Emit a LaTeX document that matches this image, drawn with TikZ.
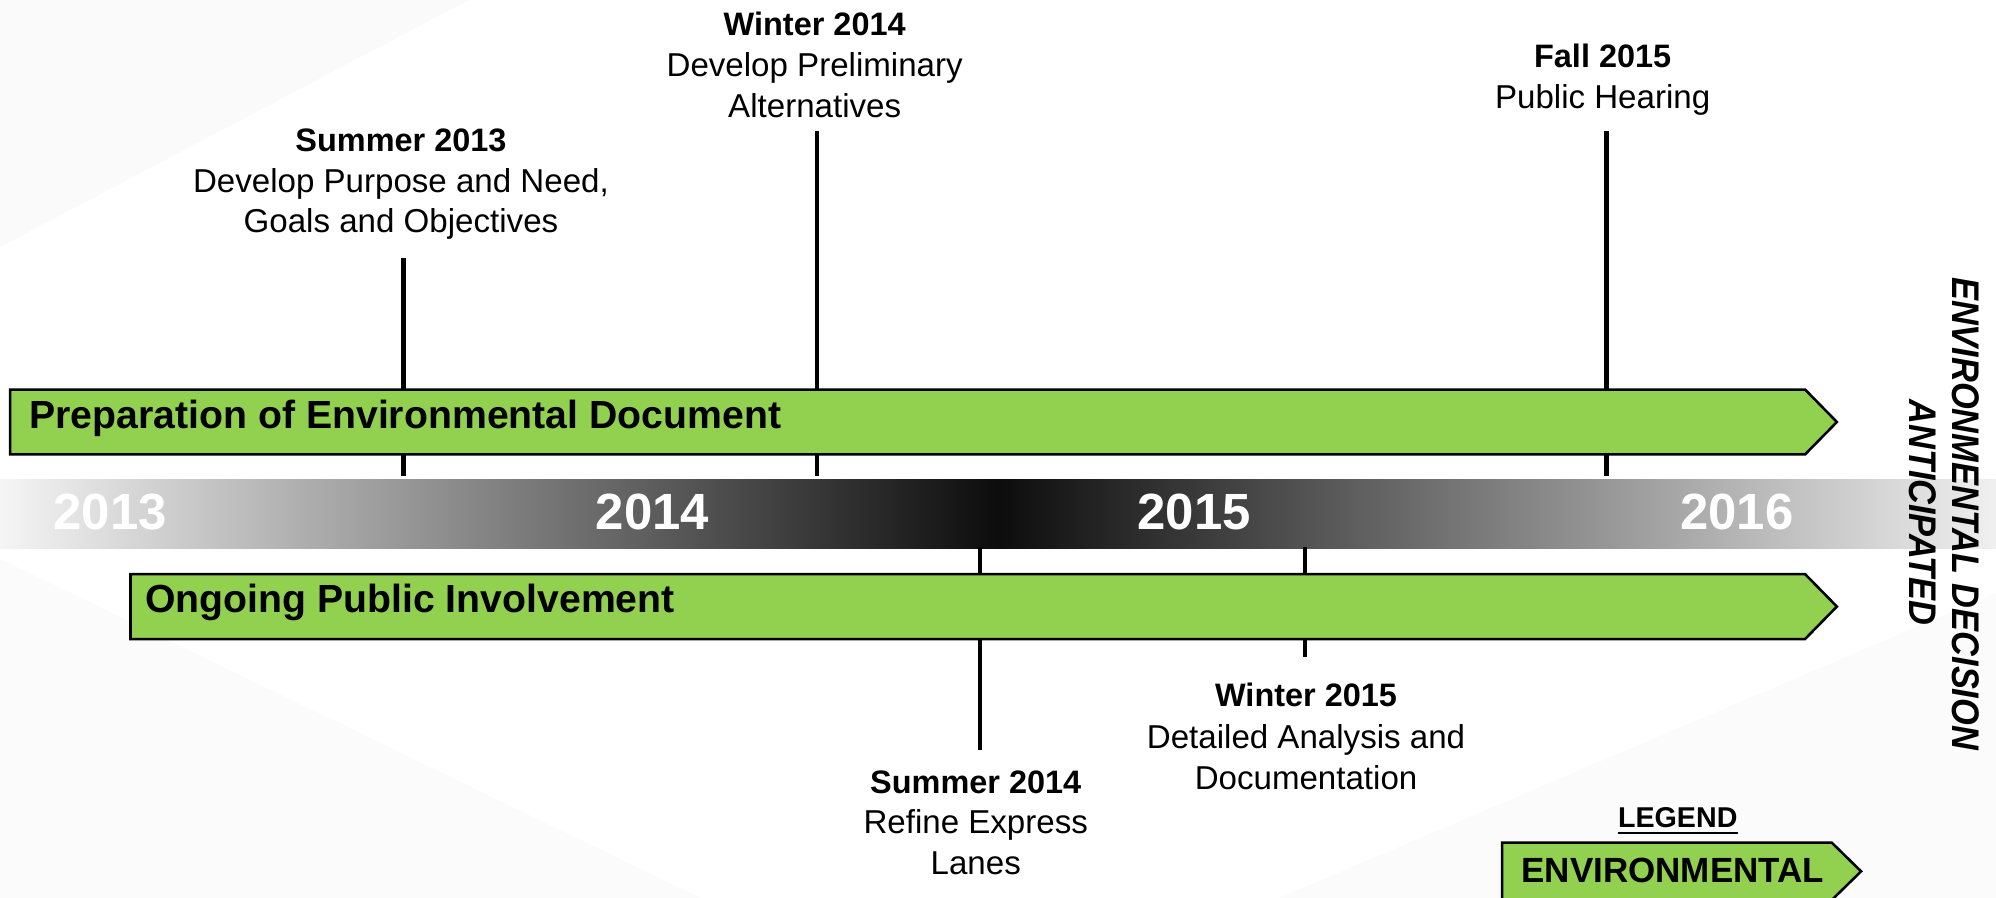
\documentclass[tikz,border=0pt]{standalone}
\usepackage{fontspec}
\setmainfont{Liberation Sans}
\definecolor{barg}{HTML}{92D050}
\begin{document}
\begin{tikzpicture}[x=1pt,y=-1pt,
  bar/.style={fill=barg, draw=black, line width=2pt, line join=miter},
  tick/.style={line width=3.5pt},
  hd/.style={font=\fontsize{25.5}{30}\selectfont\bfseries, inner sep=0pt, anchor=base},
  ds/.style={font=\fontsize{26}{30}\selectfont, inner sep=0pt, anchor=base},
  yr/.style={font=\fontsize{40}{48}\selectfont\bfseries, text=white, inner sep=0pt, anchor=base},
  bartxt/.style={font=\fontsize{30.8}{36}\selectfont\bfseries, inner sep=0pt, anchor=base west},
  rot/.style={font=\fontsize{27}{34}\selectfont\bfseries\itshape, inner sep=0pt, rotate=-90},
]
\useasboundingbox (0,0) rectangle (1568,705.4);
% background
\fill[white] (0,0) rectangle (1568,705.4);
\fill[black!2] (0,0) -- (368,0) -- (0,194) -- cycle;
\fill[black!1.5] (0,439) -- (550,705.4) -- (0,705.4) -- cycle;
\fill[black!1.5] (1005,705.4) -- (1568,466) -- (1568,705.4) -- cycle;
% time band
\shade[left color=black!4, right color=black!6, middle color=black!95] (0,376.3) rectangle (1568,430.7);
% ticks
\coordinate (t1a) at (317,203);   \coordinate (t1b) at (317,374);
\coordinate (t2a) at (642,103);   \coordinate (t2b) at (642,374);
\coordinate (t3a) at (1262,103);  \coordinate (t3b) at (1262,374);
\coordinate (t4a) at (770,430);   \coordinate (t4b) at (770,589);
\coordinate (t5a) at (1025,430);  \coordinate (t5b) at (1025,516);
\draw[tick] (t1a) -- (t1b);
\draw[tick] (t2a) -- (t2b);
\draw[tick] (t3a) -- (t3b);
\draw[tick] (t4a) -- (t4b);
\draw[tick] (t5a) -- (t5b);
% bars
\draw[bar] (8,306) -- (1418,306) -- (1443,331.5) -- (1418,357) -- (8,357) -- cycle;
\draw[bar] (102.5,451) -- (1418,451) -- (1443,476.5) -- (1418,502) -- (102.5,502) -- cycle;
\node[bartxt] (prep) at (23,336.5) {Preparation of Environmental Document};
\node[bartxt] (ongo) at (114,481) {Ongoing Public Involvement};
% years
\node[yr] (y13) at (86.5,416) {2013};
\node[yr] (y14) at (512.5,416) {2014};
\node[yr] (y15) at (938,416) {2015};
\node[yr] (y16) at (1364.5,416) {2016};
% milestone labels
\node[hd] (s13) at (315,119) {Summer 2013};
\node[ds] (s13a) at (315,151) {Develop Purpose and Need,};
\node[ds] (s13b) at (315,183) {Goals and Objectives};
\node[hd] (w14) at (640,28) {Winter 2014};
\node[ds] (w14a) at (640,60) {Develop Preliminary};
\node[ds] (w14b) at (640,92) {Alternatives};
\node[hd] (f15) at (1259,53) {Fall 2015};
\node[ds] (f15a) at (1259,85.5) {Public Hearing};
\node[hd] (s14) at (766.5,623) {Summer 2014};
\node[ds] (s14a) at (766.5,655) {Refine Express};
\node[ds] (s14b) at (766.5,687) {Lanes};
\node[hd] (w15) at (1026,555) {Winter 2015};
\node[ds] (w15a) at (1026,588) {Detailed Analysis and};
\node[ds] (w15b) at (1026,620) {Documentation};
% decision text
\node[rot] (dec1) at (1544,403.5) {\scalebox{1}[1.12]{ENVIRONMENTAL DECISION}};
\node[rot] (dec2) at (1510.5,402.5) {\scalebox{1}[1.12]{ANTICIPATED}};
% legend
\node[font=\fontsize{22.5}{27}\selectfont\bfseries, inner sep=0pt, anchor=base] (lg) at (1318,650) {LEGEND};
\draw[line width=1.8pt] ([yshift=-4.5pt]lg.base west) -- ([yshift=-4.5pt]lg.base east);
\draw[bar] (1180,662) -- (1439,662) -- (1462,684.5) -- (1439,707) -- (1180,707) -- cycle;
\node[font=\fontsize{27.5}{33}\selectfont\bfseries, inner sep=0pt, anchor=base west] (env) at (1195,693.5) {ENVIRONMENTAL};
\end{tikzpicture}
\end{document}
